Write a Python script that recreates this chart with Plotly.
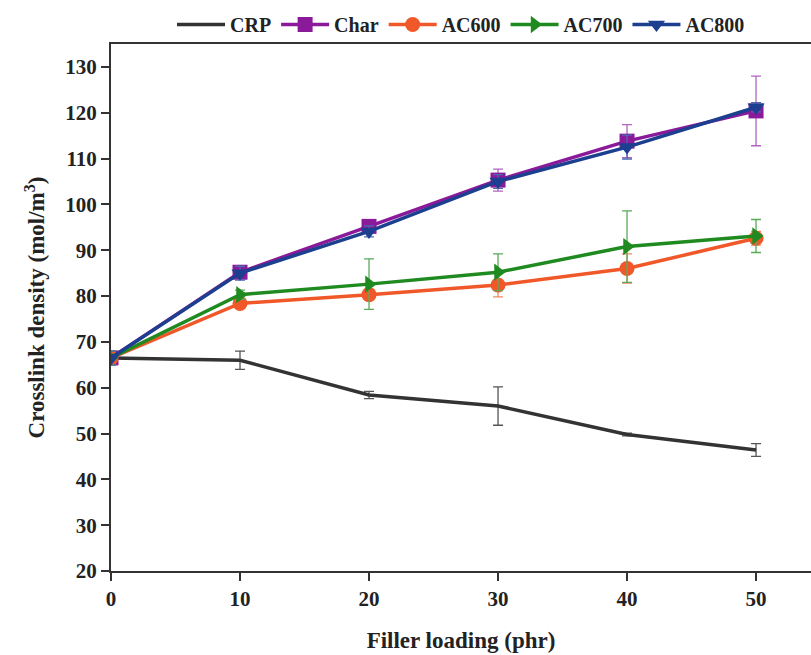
import plotly.graph_objects as go

# Filler loading (phr)
loading = [0, 10, 20, 30, 40, 50]

# Crosslink density (mol/m^3) and standard deviations for each compound
crp = [66.5, 66.0, 58.4, 56.0, 49.8, 46.4]
crp_err = [1.5, 2.0, 0.8, 4.2, 0.3, 1.4]

char = [66.5, 85.2, 95.2, 105.3, 113.8, 120.4]
char_err = [1.5, 1.0, 0.9, 2.4, 3.6, 7.6]

ac600 = [66.5, 78.4, 80.3, 82.4, 86.0, 92.6]
ac600_err = [1.5, 0.8, 1.2, 2.6, 3.2, 1.5]

ac700 = [66.5, 80.3, 82.6, 85.2, 90.8, 93.1]
ac700_err = [1.5, 1.0, 5.5, 4.0, 7.8, 3.6]

ac800 = [66.5, 85.0, 94.1, 105.0, 112.5, 121.2]
ac800_err = [1.5, 1.5, 1.2, 1.5, 2.6, 1.0]

series = [
    ("CRP", crp, crp_err, "#333333", "#555555", None),
    ("Char", char, char_err, "#8b1a9a", "#b066c0", "square"),
    ("AC600", ac600, ac600_err, "#f0582a", "#f08a60", "circle"),
    ("AC700", ac700, ac700_err, "#1f8a1f", "#5aaa5a", "triangle-right"),
    ("AC800", ac800, ac800_err, "#1c3f8f", "#4a6ab0", "triangle-down"),
]

fig = go.Figure()
for name, vals, errs, color, ecolor, symbol in series:
    fig.add_trace(go.Scatter(
        x=loading, y=vals, name=name,
        mode="lines" if symbol is None else "lines+markers",
        line=dict(color=color, width=3.5),
        marker=dict(symbol=symbol or "circle", size=15, color=color),
        error_y=dict(type="data", array=errs, visible=True,
                     color=ecolor, thickness=1.3, width=5),
    ))

font_family = "Liberation Serif, Times New Roman, serif"

fig.update_layout(
    width=811, height=655,
    margin=dict(l=111, r=0, t=44, b=84),
    paper_bgcolor="white", plot_bgcolor="white",
    font=dict(family=font_family, size=20, color="#222222"),
    showlegend=True,
    legend=dict(
        orientation="h", x=0.5, xanchor="center", y=1.0, yanchor="bottom",
        font=dict(family=font_family, size=20, color="#222222", weight="bold"),
        itemwidth=48, tracegroupgap=0, bgcolor="rgba(0,0,0,0)",
    ),
    xaxis=dict(
        range=[0, 54.26], tickvals=loading,
        showline=True, linecolor="#333333", linewidth=2, mirror=True,
        ticks="outside", ticklen=8, tickwidth=2, tickcolor="#333333",
        showgrid=False, zeroline=False,
        tickfont=dict(family=font_family, size=21, weight="bold"),
        title=dict(text="Filler loading (phr)", standoff=22,
                   font=dict(family=font_family, size=23, weight="bold")),
    ),
    yaxis=dict(
        range=[20, 135], tickvals=list(range(20, 131, 10)),
        showline=True, linecolor="#333333", linewidth=2, mirror=False,
        ticks="outside", ticklen=8, tickwidth=2, tickcolor="#333333",
        showgrid=False, zeroline=False,
        tickfont=dict(family=font_family, size=21, weight="bold"),
        title=dict(text="Crosslink density (mol/m<sup>3</sup>)", standoff=14,
                   font=dict(family=font_family, size=23, weight="bold")),
    ),
)

fig.write_html("out.html")
